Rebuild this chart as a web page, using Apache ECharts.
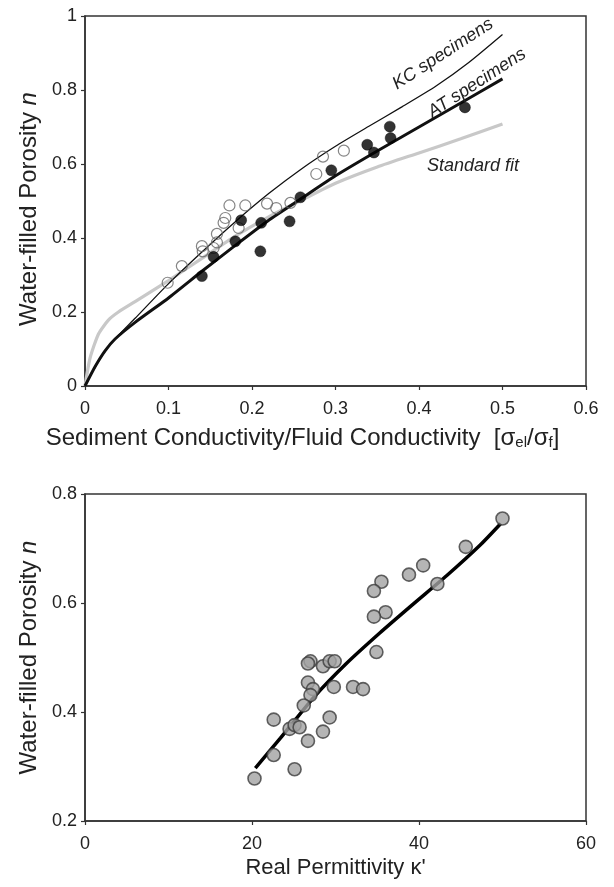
<!DOCTYPE html>
<html>
<head>
<meta charset="utf-8">
<script src="https://cdn.jsdelivr.net/npm/echarts@6/dist/echarts.min.js"></script>
<style>
html,body{margin:0;padding:0;background:#fff;}
#c{width:614px;height:887px;}
</style>
</head>
<body>
<div id="c"></div>
<script>
// ---- Top panel data ----
const topXTicks = [0, 0.1, 0.2, 0.3, 0.4, 0.5, 0.6];
const topYTicks = [0, 0.2, 0.4, 0.6, 0.8, 1];
// KC specimens (open circles)
const kcX = [0.099, 0.116, 0.140, 0.141, 0.154, 0.158, 0.158, 0.166, 0.168, 0.173, 0.184, 0.192, 0.218, 0.229, 0.246, 0.277, 0.285, 0.310];
const kcY = [0.279, 0.324, 0.378, 0.364, 0.373, 0.388, 0.411, 0.441, 0.454, 0.488, 0.427, 0.488, 0.493, 0.481, 0.495, 0.573, 0.620, 0.636];
// AT specimens (filled circles)
const atX = [0.140, 0.154, 0.180, 0.187, 0.210, 0.211, 0.245, 0.258, 0.295, 0.338, 0.346, 0.365, 0.366, 0.455];
const atY = [0.297, 0.349, 0.391, 0.448, 0.364, 0.441, 0.445, 0.510, 0.583, 0.652, 0.631, 0.701, 0.670, 0.753];
// Fitted curves
const kcFitX = [0, 0.012, 0.024, 0.036, 0.06, 0.098, 0.14, 0.178, 0.22, 0.26, 0.3, 0.34, 0.38, 0.42, 0.46, 0.5];
const kcFitY = [0, 0.05, 0.094, 0.127, 0.183, 0.272, 0.362, 0.44, 0.52, 0.588, 0.648, 0.702, 0.755, 0.81, 0.875, 0.95];
const atFitX = [0, 0.012, 0.024, 0.036, 0.06, 0.1, 0.14, 0.18, 0.22, 0.26, 0.3, 0.35, 0.4, 0.45, 0.5];
const atFitY = [0, 0.052, 0.095, 0.127, 0.172, 0.238, 0.31, 0.38, 0.448, 0.508, 0.568, 0.635, 0.7, 0.765, 0.83];
const stdFitX = [0, 0.006, 0.016, 0.028, 0.04, 0.06, 0.1, 0.14, 0.18, 0.22, 0.26, 0.3, 0.35, 0.4, 0.45, 0.5];
const stdFitY = [0, 0.075, 0.14, 0.178, 0.2, 0.228, 0.285, 0.345, 0.405, 0.457, 0.503, 0.548, 0.592, 0.63, 0.668, 0.708];

// ---- Bottom panel data ----
const botXTicks = [0, 20, 40, 60];
const botYTicks = [0.2, 0.4, 0.6, 0.8];
const permX = [50.0, 45.6, 40.5, 38.8, 42.2, 35.5, 34.6, 36.0, 34.6, 34.9, 27.0, 26.7, 28.5, 29.3, 29.9, 26.7, 27.3, 27.0, 29.8, 32.1, 33.3, 26.2, 22.6, 29.3, 24.5, 25.1, 25.7, 28.5, 26.7, 22.6, 25.1, 20.3];
const porY = [0.755, 0.703, 0.669, 0.652, 0.635, 0.639, 0.622, 0.583, 0.575, 0.510, 0.493, 0.489, 0.484, 0.493, 0.493, 0.454, 0.442, 0.431, 0.446, 0.446, 0.442, 0.412, 0.386, 0.390, 0.369, 0.376, 0.372, 0.364, 0.347, 0.321, 0.295, 0.278];
const permFitX = [20.4, 23.4, 27.4, 31.3, 35.3, 39.3, 43.3, 47.3, 49.8];
const permFitY = [0.297, 0.352, 0.427, 0.489, 0.545, 0.598, 0.65, 0.706, 0.746];

const zip = (a, b) => a.map((v, i) => [v, b[i]]);
const FONT = '"Liberation Sans", Arial, sans-serif';
const axisCol = '#333';
const txtCol = '#222';

function fmtTop(v) { return String(+v.toFixed(1)); }

function yAxisCfg(gi, ticks, pad) {
  return {
    gridIndex: gi, type: 'value', min: ticks[0], max: ticks[ticks.length - 1], interval: 0.2,
    axisLine: {show: true, lineStyle: {color: axisCol, width: 1.5}},
    axisTick: {show: true, length: 4, lineStyle: {color: axisCol, width: 1.2}},
    splitLine: {show: false},
    axisLabel: {fontSize: 18, color: txtCol, margin: 8, fontFamily: FONT, formatter: fmtTop},
    name: 'Water-filled Porosity {i|n}',
    nameLocation: 'middle', nameGap: 44,
    nameTextStyle: {fontSize: 24, color: txtCol, fontFamily: FONT, padding: pad,
      rich: {i: {fontSize: 24, fontStyle: 'italic', color: txtCol, fontFamily: FONT}}}
  };
}

const chart = echarts.init(document.getElementById('c'), null, {renderer: 'canvas'});
const option = {
  backgroundColor: '#fff',
  animation: false,
  textStyle: {fontFamily: FONT},
  grid: [
    {left: 85, top: 16, width: 501, height: 370, show: true, borderColor: axisCol, borderWidth: 1.5, backgroundColor: 'transparent'},
    {left: 85, top: 494, width: 501, height: 327, show: true, borderColor: axisCol, borderWidth: 1.5, backgroundColor: 'transparent'}
  ],
  xAxis: [
    {
      gridIndex: 0, type: 'value', min: topXTicks[0], max: topXTicks[topXTicks.length - 1], interval: 0.1,
      axisLine: {show: true, lineStyle: {color: axisCol, width: 1.5}},
      axisTick: {show: true, length: 4, lineStyle: {color: axisCol, width: 1.2}},
      splitLine: {show: false},
      axisLabel: {fontSize: 18, color: txtCol, margin: 14, fontFamily: FONT, formatter: fmtTop},
      name: 'Sediment Conductivity/Fluid Conductivity  [σ{sub|el}/σ{sub|f}]',
      nameLocation: 'middle', nameGap: 40,
      nameTextStyle: {fontSize: 24, color: txtCol, fontFamily: FONT, padding: [0, 66, 0, 0],
        rich: {sub: {fontSize: 15, color: txtCol, fontFamily: FONT, verticalAlign: 'bottom', padding: [9, 0, 0, 0]}}}
    },
    {
      gridIndex: 1, type: 'value', min: botXTicks[0], max: botXTicks[botXTicks.length - 1], interval: 20,
      axisLine: {show: true, lineStyle: {color: axisCol, width: 1.5}},
      axisTick: {show: true, length: 4, lineStyle: {color: axisCol, width: 1.2}},
      splitLine: {show: false},
      axisLabel: {fontSize: 18, color: txtCol, margin: 14, fontFamily: FONT},
      name: "Real Permittivity κ'",
      nameLocation: 'middle', nameGap: 36,
      nameTextStyle: {fontSize: 22, color: txtCol, fontFamily: FONT}
    }
  ],
  yAxis: [yAxisCfg(0, topYTicks, [0, 16, 0, 0]), yAxisCfg(1, botYTicks, [0, 0, 0, 0])],
  series: [
    {type: 'line', name: 'Standard fit', xAxisIndex: 0, yAxisIndex: 0, data: zip(stdFitX, stdFitY),
      showSymbol: false, smooth: 0.2, lineStyle: {color: '#c8c8c8', width: 3.2}, z: 2},
    {type: 'line', name: 'KC fit', xAxisIndex: 0, yAxisIndex: 0, data: zip(kcFitX, kcFitY),
      showSymbol: false, smooth: 0.2, lineStyle: {color: '#111', width: 1.3}, z: 3},
    {type: 'line', name: 'AT fit', xAxisIndex: 0, yAxisIndex: 0, data: zip(atFitX, atFitY),
      showSymbol: false, smooth: 0.2, lineStyle: {color: '#111', width: 3}, z: 3},
    {type: 'scatter', name: 'KC specimens', xAxisIndex: 0, yAxisIndex: 0, data: zip(kcX, kcY),
      symbol: 'circle', symbolSize: 11, itemStyle: {color: 'rgba(255,255,255,0)', borderColor: '#666', borderWidth: 1.2}, z: 4},
    {type: 'scatter', name: 'AT specimens', xAxisIndex: 0, yAxisIndex: 0, data: zip(atX, atY),
      symbol: 'circle', symbolSize: 11, itemStyle: {color: '#000', borderColor: '#000', borderWidth: 0.5}, z: 5},
    {type: 'line', name: 'Permittivity fit', xAxisIndex: 1, yAxisIndex: 1, data: zip(permFitX, permFitY),
      showSymbol: false, smooth: 0.2, lineStyle: {color: '#000', width: 3.5}, z: 3},
    {type: 'scatter', name: 'Permittivity data', xAxisIndex: 1, yAxisIndex: 1, data: zip(permX, porY),
      symbol: 'circle', symbolSize: 13, itemStyle: {color: '#a3a3a3', borderColor: '#3c3c3c', borderWidth: 1.6}, z: 4}
  ],
  graphic: [
    {type: 'text', x: 443, y: 54, rotation: 33 * Math.PI / 180, z: 10,
      style: {text: 'KC specimens', font: 'italic 18px ' + FONT, fill: txtCol, align: 'center', verticalAlign: 'middle'}},
    {type: 'text', x: 477, y: 83, rotation: 33 * Math.PI / 180, z: 10,
      style: {text: 'AT specimens', font: 'italic 18px ' + FONT, fill: txtCol, align: 'center', verticalAlign: 'middle'}},
    {type: 'text', x: 473, y: 166, z: 10,
      style: {text: 'Standard fit', font: 'italic 18px ' + FONT, fill: txtCol, align: 'center', verticalAlign: 'middle'}}
  ]
};
chart.setOption(option);
</script>
</body>
</html>
